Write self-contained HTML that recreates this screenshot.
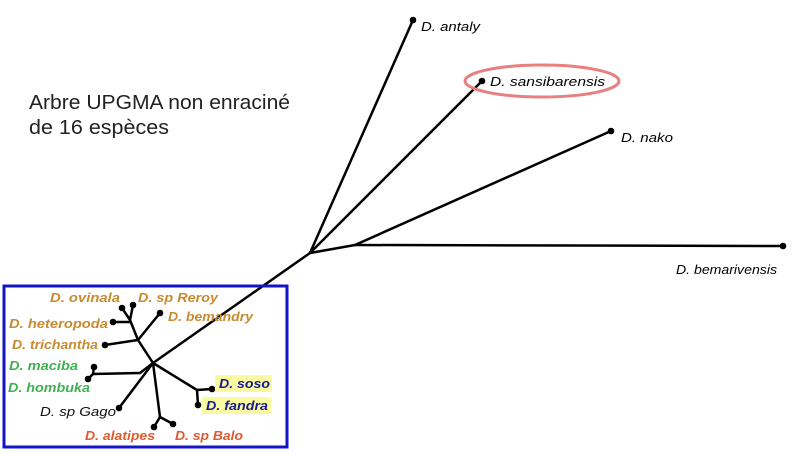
<!DOCTYPE html>
<html><head><meta charset="utf-8"><style>
body{margin:0;background:#fff}
svg{display:block}
text{font-family:"Liberation Sans",sans-serif}
.l{font-size:13px;font-style:italic;font-weight:bold}
.r{font-size:13px;font-style:italic}
</style></head><body>
<svg width="792" height="455" viewBox="0 0 792 455">
<rect width="792" height="455" fill="#fff"/>
<text x="29" y="109" font-size="20" fill="#222" textLength="261" lengthAdjust="spacingAndGlyphs">Arbre UPGMA non enraciné</text>
<text x="29" y="134" font-size="20" fill="#222" textLength="140" lengthAdjust="spacingAndGlyphs">de 16 espèces</text>
<g stroke="#000" stroke-width="2.5" fill="none" stroke-linecap="round">
<line x1="310" y1="253" x2="413" y2="20"/>
<line x1="310" y1="253" x2="482" y2="81"/>
<line x1="310" y1="253" x2="355" y2="245"/>
<line x1="355" y1="245" x2="611" y2="131"/>
<line x1="355" y1="245" x2="783" y2="246"/>
<line x1="310" y1="253" x2="153" y2="363"/>
<line x1="153" y1="363" x2="138" y2="340"/>
<line x1="138" y1="340" x2="130" y2="320"/>
<line x1="130" y1="320" x2="122" y2="308"/>
<line x1="130" y1="320" x2="133" y2="305"/>
<line x1="130" y1="322" x2="113" y2="322"/>
<line x1="138" y1="340" x2="160" y2="313"/>
<line x1="138" y1="340" x2="105" y2="345"/>
<line x1="153" y1="363" x2="140" y2="373"/>
<line x1="140" y1="373" x2="93" y2="374"/>
<line x1="93" y1="374" x2="94" y2="367"/>
<line x1="93" y1="374" x2="88" y2="379"/>
<line x1="153" y1="363" x2="119" y2="408"/>
<line x1="153" y1="363" x2="160" y2="417"/>
<line x1="160" y1="417" x2="154" y2="427"/>
<line x1="160" y1="417" x2="173" y2="424"/>
<line x1="153" y1="363" x2="197" y2="390"/>
<line x1="197" y1="390" x2="212" y2="389"/>
<line x1="197" y1="390" x2="198" y2="405"/>
</g>
<g fill="#000">
<circle cx="413" cy="20" r="3.3"/><circle cx="482" cy="81" r="3.3"/><circle cx="611" cy="131" r="3.3"/><circle cx="783" cy="246" r="3.3"/>
<circle cx="122" cy="308" r="3.3"/><circle cx="133" cy="305" r="3.3"/><circle cx="113" cy="322" r="3.3"/><circle cx="160" cy="313" r="3.3"/><circle cx="105" cy="345" r="3.3"/><circle cx="94" cy="367" r="3.3"/><circle cx="88" cy="379" r="3.3"/><circle cx="119" cy="408" r="3.3"/><circle cx="154" cy="427" r="3.3"/><circle cx="173" cy="424" r="3.3"/><circle cx="212" cy="389" r="3.3"/><circle cx="198" cy="405" r="3.3"/>
</g>
<ellipse cx="542" cy="81" rx="77" ry="16" fill="none" stroke="#e88080" stroke-width="3"/>
<text class="r" x="421" y="31" textLength="59" lengthAdjust="spacingAndGlyphs">D. antaly</text>
<text class="r" x="490" y="86" textLength="115" lengthAdjust="spacingAndGlyphs">D. sansibarensis</text>
<text class="r" x="621" y="142" textLength="52" lengthAdjust="spacingAndGlyphs">D. nako</text>
<text class="r" x="676" y="274" textLength="101" lengthAdjust="spacingAndGlyphs">D. bemarivensis</text>
<rect x="4" y="286" width="283" height="161" fill="none" stroke="#1515c8" stroke-width="3"/>
<rect x="215" y="375" width="57" height="17" fill="#fafaa0"/>
<rect x="202" y="397" width="69" height="17" fill="#fafaa0"/>
<g class="l" lengthAdjust="spacingAndGlyphs">
<text x="50" y="302" fill="#c88a30" textLength="70" lengthAdjust="spacingAndGlyphs">D. ovinala</text>
<text x="138" y="302" fill="#c88a30" textLength="80" lengthAdjust="spacingAndGlyphs">D. sp Reroy</text>
<text x="168" y="321" fill="#c88a30" textLength="85" lengthAdjust="spacingAndGlyphs">D. bemandry</text>
<text x="9" y="328" fill="#c88a30" textLength="99" lengthAdjust="spacingAndGlyphs">D. heteropoda</text>
<text x="12" y="349" fill="#c88a30" textLength="86" lengthAdjust="spacingAndGlyphs">D. trichantha</text>
<text x="9" y="370" fill="#40b050" textLength="69" lengthAdjust="spacingAndGlyphs">D. maciba</text>
<text x="8" y="392" fill="#40b050" textLength="82" lengthAdjust="spacingAndGlyphs">D. hombuka</text>
<text x="40" y="416" fill="#111" font-weight="normal" textLength="76" lengthAdjust="spacingAndGlyphs">D. sp Gago</text>
<text x="85" y="440" fill="#e05a30" textLength="70" lengthAdjust="spacingAndGlyphs">D. alatipes</text>
<text x="175" y="440" fill="#e05a30" textLength="68" lengthAdjust="spacingAndGlyphs">D. sp Balo</text>
<text x="219" y="388" fill="#1a1a90" textLength="51" lengthAdjust="spacingAndGlyphs">D. soso</text>
<text x="206" y="410" fill="#1a1a90" textLength="62" lengthAdjust="spacingAndGlyphs">D. fandra</text>
</g>
</svg>
</body></html>
